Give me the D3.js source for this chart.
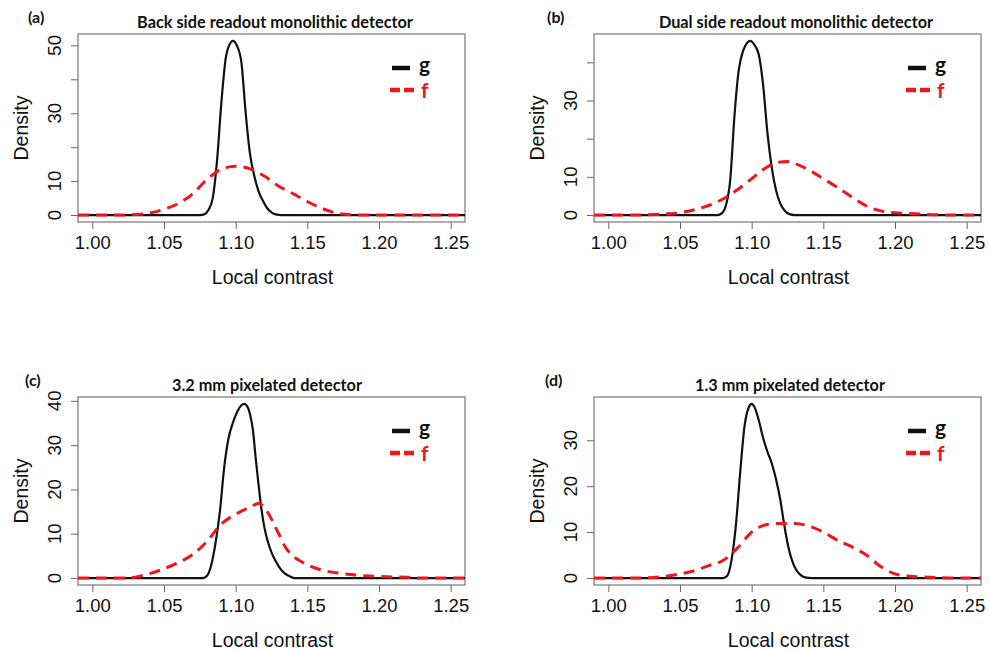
<!DOCTYPE html>
<html>
<head>
<meta charset="utf-8">
<script src="https://cdn.jsdelivr.net/npm/d3@7"></script>
<style>
  body { margin: 0; background: #fff; }
  .tick-label { font-family: "Liberation Sans", Arial, sans-serif; font-size: 18.5px; fill: #111; }
  .axis-title { font-family: "Liberation Sans", Arial, sans-serif; font-size: 19.5px; fill: #111; }
  .panel-title { font-family: Lato, "Open Sans", sans-serif; font-weight: bold; font-size: 16.3px; fill: #111; }
  .panel-tag { font-family: Lato, "Open Sans", sans-serif; font-weight: bold; font-size: 16px; fill: #111; }
  .legend-text { font-family: Lato, "Open Sans", sans-serif; font-weight: bold; font-size: 21px; }
</style>
</head>
<body>
<svg id="chart" width="989" height="650"></svg>
<script>
// x tick labels shared by all panels
const xTicks = [1.00, 1.05, 1.10, 1.15, 1.20, 1.25];

// (a) back side readout monolithic detector
const gBack = [[0.99,0],[1.075,0],[1.078,0.2],[1.081,1.5],[1.084,5],[1.087,16],[1.090,33],[1.093,46],[1.096,50.5],[1.098,51.3],[1.101,49.8],[1.104,45],[1.107,30],[1.110,18],[1.113,11.5],[1.116,7],[1.119,4.2],[1.122,2],[1.125,0.8],[1.128,0.2],[1.132,0],[1.26,0]];
const fBack = [[0.99,0],[1.02,0],[1.03,0.15],[1.04,0.6],[1.05,1.7],[1.06,3.4],[1.07,6.2],[1.08,10.5],[1.09,13.5],[1.10,14.4],[1.11,13.6],[1.12,11.5],[1.13,8.5],[1.14,6.3],[1.15,4],[1.16,2],[1.17,0.6],[1.18,0.1],[1.19,0],[1.26,0]];
const yTicksBack = [0, 10, 20, 30, 40, 50];
const yLabelsBack = [0, 10, 30, 50];

// (b) dual side readout monolithic detector
const gDual = [[0.99,0],[1.076,0],[1.079,0.4],[1.082,2.5],[1.085,9],[1.088,26],[1.091,38],[1.094,43],[1.097,45.2],[1.099,45.6],[1.102,44.5],[1.105,42],[1.108,34],[1.111,21.5],[1.114,12.5],[1.117,6.5],[1.120,3],[1.123,1.2],[1.126,0.3],[1.130,0],[1.26,0]];
const fDual = [[0.99,0],[1.02,0],[1.04,0.3],[1.05,0.6],[1.06,1.4],[1.07,2.5],[1.08,4.2],[1.09,6.6],[1.10,9.5],[1.11,12.4],[1.12,13.9],[1.125,14],[1.13,13.5],[1.14,11.8],[1.15,9.5],[1.16,7.2],[1.17,4.7],[1.18,2.4],[1.19,1.1],[1.20,0.6],[1.21,0.4],[1.22,0.2],[1.23,0.05],[1.24,0],[1.26,0]];
const yTicksDual = [0, 10, 20, 30, 40];
const yLabelsDual = [0, 10, 30];

// (c) 3.2 mm pixelated detector
const gPix32 = [[0.99,0],[1.077,0],[1.080,0.5],[1.083,3],[1.086,8],[1.089,15],[1.092,25],[1.095,31.5],[1.098,35],[1.101,37.5],[1.104,39],[1.106,39.3],[1.108,38.8],[1.110,37],[1.112,33.5],[1.114,27],[1.116,21],[1.118,15.5],[1.120,11.5],[1.122,8.7],[1.125,5.8],[1.128,3.8],[1.131,2.2],[1.134,1.1],[1.137,0.5],[1.141,0],[1.26,0]];
const fPix32 = [[0.99,0],[1.025,0],[1.03,0.2],[1.04,1],[1.05,2.1],[1.06,3.5],[1.07,5.3],[1.08,8.3],[1.09,12.2],[1.10,14.4],[1.11,16],[1.116,16.8],[1.12,16],[1.125,13.3],[1.13,10],[1.135,6.8],[1.14,5],[1.15,3],[1.16,1.8],[1.17,1.2],[1.18,0.8],[1.19,0.5],[1.20,0.35],[1.21,0.25],[1.22,0.15],[1.23,0],[1.26,0]];
const yTicksPix32 = [0, 10, 20, 30, 40];
const yLabelsPix32 = [0, 10, 20, 30, 40];

// (d) 1.3 mm pixelated detector
const gPix13 = [[0.99,0],[1.080,0],[1.083,0.5],[1.086,4],[1.089,11.5],[1.092,23],[1.095,33],[1.098,37.2],[1.100,37.9],[1.102,37.2],[1.105,34.3],[1.108,30.5],[1.111,27.5],[1.114,25],[1.117,21.5],[1.120,17],[1.122,13],[1.124,9.3],[1.126,6.2],[1.128,4],[1.131,1.8],[1.134,0.7],[1.138,0.1],[1.142,0],[1.26,0]];
const fPix13 = [[0.99,0],[1.02,0],[1.04,0.4],[1.05,0.9],[1.06,1.6],[1.07,2.7],[1.08,3.8],[1.09,6.5],[1.10,10],[1.11,11.6],[1.12,11.9],[1.13,11.9],[1.14,11.3],[1.15,10],[1.16,8.2],[1.17,6.8],[1.18,5],[1.19,2.5],[1.20,0.9],[1.21,0.4],[1.22,0.25],[1.23,0.1],[1.24,0],[1.26,0]];
const yTicksPix13 = [0, 10, 20, 30];
const yLabelsPix13 = [0, 10, 20, 30];

const panels = [
    { tag: "(a)", title: "Back side readout monolithic detector", g: gBack, f: fBack, yTicks: yTicksBack, yLabels: yLabelsBack,
      left: 78, top: 34, tagX: 28, titleX: 275 },
    { tag: "(b)", title: "Dual side readout monolithic detector", g: gDual, f: fDual, yTicks: yTicksDual, yLabels: yLabelsDual,
      left: 594, top: 34, tagX: 547, titleX: 796 },
    { tag: "(c)", title: "3.2 mm pixelated detector", g: gPix32, f: fPix32, yTicks: yTicksPix32, yLabels: yLabelsPix32,
      left: 78, top: 397, tagX: 25, titleX: 267 },
    { tag: "(d)", title: "1.3 mm pixelated detector", g: gPix13, f: fPix13, yTicks: yTicksPix13, yLabels: yLabelsPix13,
      left: 594, top: 397, tagX: 545, titleX: 790 }
];

const svg = d3.select("#chart");
const boxW = 387, boxH = 188;

panels.forEach(p => {
    const g = svg.append("g").attr("transform", `translate(${p.left},${p.top})`);

    const x = d3.scaleLinear().domain([0.99, 1.26]).range([0, boxW]);
    const yMax = d3.max(p.g.concat(p.f), d => d[1]);
    const y = d3.scaleLinear().domain([-0.04 * yMax, 1.04 * yMax]).range([boxH, 0]);

    const line = d3.line()
        .x(d => x(d[0]))
        .y(d => y(d[1]))
        .curve(d3.curveMonotoneX);

    // x axis
    const xAxis = g.append("g")
        .attr("transform", `translate(0,${boxH})`)
        .call(d3.axisBottom(x).tickValues(xTicks).tickSize(7).tickPadding(7).tickFormat(d3.format(".2f")));
    xAxis.select(".domain").remove();
    xAxis.selectAll(".tick line").attr("stroke", "#666");
    xAxis.selectAll(".tick text").attr("class", "tick-label").attr("fill", null).attr("font-size", null).attr("font-family", null);
    xAxis.attr("font-size", null).attr("font-family", null);

    // y axis ticks
    const yAxis = g.append("g")
        .call(d3.axisLeft(y).tickValues(p.yTicks).tickSize(7).tickFormat(""));
    yAxis.select(".domain").remove();
    yAxis.selectAll(".tick line").attr("stroke", "#666");

    g.selectAll(".ylab")
        .data(p.yLabels)
        .enter().append("text")
        .attr("class", "tick-label")
        .attr("text-anchor", "middle")
        .attr("dominant-baseline", "central")
        .attr("transform", d => `translate(-24,${y(d)}) rotate(-90)`)
        .text(d => d);

    // box
    g.append("rect")
        .attr("width", boxW)
        .attr("height", boxH)
        .attr("fill", "none")
        .attr("stroke", "#777")
        .attr("stroke-width", 1.2);

    // curves
    g.append("path")
        .datum(p.g)
        .attr("fill", "none")
        .attr("stroke", "#111")
        .attr("stroke-width", 2.2)
        .attr("d", line);

    g.append("path")
        .datum(p.f)
        .attr("fill", "none")
        .attr("stroke", "#f0141c")
        .attr("stroke-width", 3)
        .attr("stroke-dasharray", "11,7")
        .attr("d", line);

    // axis titles
    g.append("text")
        .attr("class", "axis-title")
        .attr("text-anchor", "middle")
        .attr("x", boxW / 2 + 1)
        .attr("y", boxH + 62)
        .text("Local contrast");

    g.append("text")
        .attr("class", "axis-title")
        .attr("text-anchor", "middle")
        .attr("dominant-baseline", "central")
        .attr("transform", `translate(-57,${boxH / 2}) rotate(-90)`)
        .text("Density");

    // legend
    const leg = g.append("g").attr("transform", `translate(${boxW - 73},0)`);
    leg.append("line").attr("x1", 0).attr("x2", 18).attr("y1", 34).attr("y2", 34)
        .attr("stroke", "#111").attr("stroke-width", 4.5);
    leg.append("text").attr("class", "legend-text").attr("x", 27).attr("y", 38).attr("fill", "#111").text("g");
    leg.append("line").attr("x1", -2).attr("x2", 24).attr("y1", 56).attr("y2", 56)
        .attr("stroke", "#f0141c").attr("stroke-width", 4.5).attr("stroke-dasharray", "10,4");
    leg.append("text").attr("class", "legend-text").attr("x", 29).attr("y", 64).attr("fill", "#f0141c").text("f");

    // panel title and tag
    svg.append("text")
        .attr("class", "panel-title")
        .attr("text-anchor", "middle")
        .attr("x", p.titleX)
        .attr("y", p.top - 6)
        .text(p.title);

    svg.append("text")
        .attr("class", "panel-tag")
        .attr("x", p.tagX)
        .attr("y", p.top - 11)
        .text(p.tag);
});
</script>
</body>
</html>
